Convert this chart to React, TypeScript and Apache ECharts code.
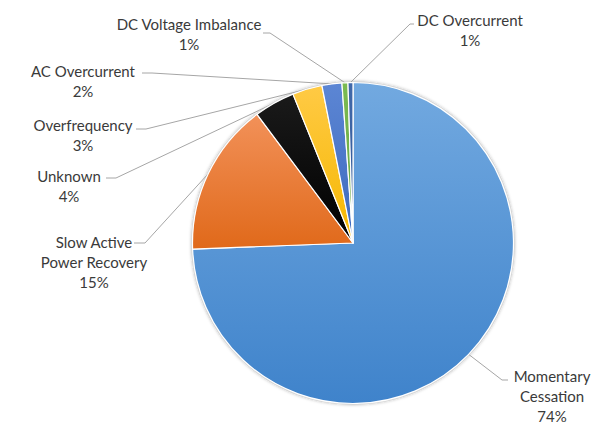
import React, { useEffect, useRef } from 'react';
import * as echarts from 'echarts';

const categories = [
  'Momentary Cessation',
  'Slow Active Power Recovery',
  'Unknown',
  'Overfrequency',
  'AC Overcurrent',
  'DC Voltage Imbalance',
  'DC Overcurrent',
];
const values = [74.4, 15.4, 4.1, 3.0, 2.0, 0.6, 0.5];
const labelText = [
  'Momentary\nCessation',
  'Slow Active\nPower Recovery',
  'Unknown',
  'Overfrequency',
  'AC Overcurrent',
  'DC Voltage Imbalance',
  'DC Overcurrent',
];

const sliceColors: [string, string][] = [
  ['#72a9e0', '#3f83cb'],
  ['#f29159', '#e0691a'],
  ['#1a1a1a', '#000000'],
  ['#ffca45', '#f5b700'],
  ['#5c86d4', '#3d69bd'],
  ['#7bbb52', '#66a23d'],
  ['#4169aa', '#2f5592'],
];

// label block centre and leader line elbow / end (layout only)
const labelPlacement = [
  [552, 396, 502, 380, 508, 380],
  [94, 262, 145, 243, 134, 243],
  [69, 185.5, 116, 178, 106, 178],
  [83, 134.5, 146, 129, 136, 129],
  [83, 80.5, 152, 73, 142, 73],
  [189, 34, 270, 33, 263, 33],
  [470, 29.5, 410, 24, 414, 24],
];

export default function App() {
  const ref = useRef<HTMLDivElement>(null);
  useEffect(() => {
    document.body.style.margin = '0';
    if (!ref.current) return;
    const chart = echarts.init(ref.current, undefined, { renderer: 'svg' });
    const data = categories.map((name, i) => ({
      name,
      value: values[i],
      itemStyle: {
        color: new echarts.graphic.LinearGradient(0, 0, 0, 1, [
          { offset: 0, color: sliceColors[i][0] },
          { offset: 1, color: sliceColors[i][1] },
        ]),
      },
    }));
    chart.setOption({
      animation: false,
      backgroundColor: '#ffffff',
      series: [
        {
          type: 'pie',
          silent: true,
          center: [353, 243],
          radius: 162,
          z: 1,
          label: { show: false },
          labelLine: { show: false },
          itemStyle: { color: '#d6d6d6', shadowBlur: 3, shadowColor: 'rgba(0,0,0,0.25)' },
          data: [{ value: 1, name: 'bg' }],
        },
        {
          type: 'pie',
          center: [353, 243],
          radius: 160.5,
          startAngle: 90,
          clockwise: true,
          z: 2,
          avoidLabelOverlap: false,
          itemStyle: { borderColor: '#ffffff', borderWidth: 1.2 },
          label: {
            show: true,
            position: 'outside',
            color: '#3a3a3a',
            fontFamily: 'Lato',
            fontSize: 15,
            lineHeight: 20,
            align: 'center',
            formatter: (p: any) => `${labelText[p.dataIndex]}\n${Math.round(p.percent)}%`,
          },
          labelLine: {
            show: true,
            length: 10,
            length2: 10,
            lineStyle: { color: '#a6a6a6', width: 1 },
          },
          labelLayout: (params: any) => {
            const p = labelPlacement[params.dataIndex];
            const s = params.labelLinePoints ? params.labelLinePoints[0] : [p[2], p[3]];
            return {
              x: p[0],
              y: p[1],
              align: 'center',
              verticalAlign: 'middle',
              labelLinePoints: [s, [p[2], p[3]], [p[4], p[5]]],
            };
          },
          data,
        },
      ],
    });
    return () => chart.dispose();
  }, []);
  return <div ref={ref} style={{ width: 615, height: 426 }} />;
}
